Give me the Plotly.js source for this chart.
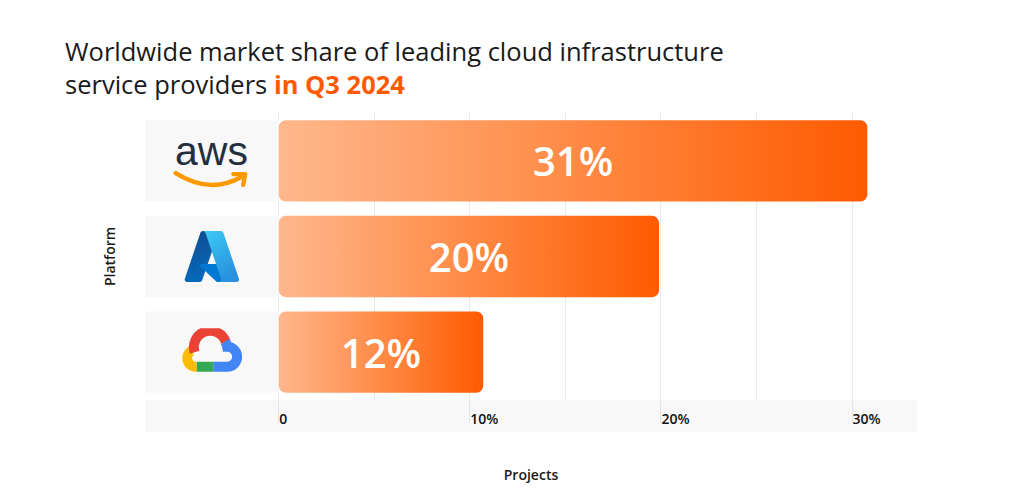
<!DOCTYPE html>
<html>
<head>
<meta charset="utf-8">
<script src="https://cdn.plot.ly/plotly-3.0.1.min.js"></script>
<style>
  html, body { margin: 0; padding: 0; background: #fff; }
  #myDiv { width: 1024px; height: 500px; }
</style>
</head>
<body>
<div id="myDiv"></div>
<script>
// data
let plataformas = ["AWS", "Azure", "Google Cloud"];
let largoBarra = [30.8, 19.9, 10.7];
let etiquetas = ["31%", "20%", "12%"];
let ticksX = [0, 10, 20, 30];
let ticksXTexto = ["0", "10%", "20%", "30%"];
let ticksMenores = [5, 15, 25];

let inicioLogo = -7;

// logos as small svg images
let svgSonrisa = `<svg xmlns="http://www.w3.org/2000/svg" viewBox="0 0 80 22">
<path d="M3,4 Q38,26 70,8" fill="none" stroke="#ff9900" stroke-width="4.5" stroke-linecap="round"/>
<path d="M62,5 L74,5 L72,16" fill="none" stroke="#ff9900" stroke-width="4.5" stroke-linecap="round" stroke-linejoin="round"/>
</svg>`;

let svgAzure = `<svg xmlns="http://www.w3.org/2000/svg" viewBox="0 0 96 96">
<defs>
<linearGradient id="a1" x1="0" y1="0" x2="0.3" y2="1"><stop offset="0" stop-color="#114a8b"/><stop offset="1" stop-color="#0669bc"/></linearGradient>
<linearGradient id="a2" x1="0" y1="0" x2="0.4" y2="1"><stop offset="0" stop-color="#3ccbf4"/><stop offset="1" stop-color="#2892df"/></linearGradient>
</defs>
<path d="M33.338 6.544h26.038l-27.03 80.087a4.152 4.152 0 0 1-3.933 2.824H8.149a4.145 4.145 0 0 1-3.928-5.47L29.404 9.368a4.152 4.152 0 0 1 3.934-2.825z" fill="url(#a1)"/>
<path d="M71.175 60.261h-41.29a1.911 1.911 0 0 0-1.305 3.309l26.532 24.764a4.171 4.171 0 0 0 2.846 1.121h23.38z" fill="#0078d4"/>
<path d="M66.595 9.364a4.145 4.145 0 0 0-3.928-2.82H33.648a4.146 4.146 0 0 1 3.928 2.82l25.184 74.62a4.146 4.146 0 0 1-3.928 5.472h29.02a4.146 4.146 0 0 0 3.927-5.472z" fill="url(#a2)"/>
</svg>`;

let svgGoogle = `<svg xmlns="http://www.w3.org/2000/svg" viewBox="4 10 92 62">
<g fill="none" stroke-width="15" stroke-linecap="butt">
<path d="M52,63 L27,63" stroke="#34a853"/>
<path d="M27,63 A13,13 0 0 1 19,39" stroke="#fbbc05"/>
<path d="M24,41 A21,21 0 0 1 71,26" stroke="#ea4335"/>
<path d="M70,25 A21,21 0 0 1 73,33 A15,15 0 0 1 73,63 L52,63" stroke="#4285f4"/>
</g>
</svg>`;

function aUrl(svg) {
    return "data:image/svg+xml;charset=utf-8," + encodeURIComponent(svg);
}

let centroLogo = inicioLogo / 2;

var data = [
    {
        // gray boxes behind the logos
        type: 'bar',
        orientation: 'h',
        y: plataformas,
        x: plataformas.map(() => -inicioLogo),
        base: inicioLogo,
        width: 0.85,
        marker: { color: '#f8f8f8', cornerradius: 0 },
        hoverinfo: 'skip',
        showlegend: false
    },
    {
        type: 'bar',
        orientation: 'h',
        y: plataformas,
        x: largoBarra,
        base: 0,
        width: 0.85,
        text: etiquetas,
        textposition: 'inside',
        insidetextanchor: 'middle',
        textangle: 0,
        textfont: { family: 'Open Sans', size: 40, color: '#ffffff', weight: 600 },
        marker: { color: '#ff8a45', cornerradius: 7 },
        showlegend: false
    }
];

var layout = {
    width: 1024,
    height: 500,
    margin: { l: 145, r: 107, t: 113, b: 100 },
    barmode: 'overlay',
    font: { family: 'Open Sans', color: '#1a1a1a' },
    title: {
        text: 'Worldwide market share of leading cloud infrastructure<br>service providers <span style="color:#ff5a00"><b>in Q3 2024</b></span>',
        x: 65 / 1024,
        xanchor: 'left',
        xref: 'container',
        y: 1 - 61 / 500,
        yanchor: 'top',
        yref: 'container',
        font: { family: 'Open Sans', size: 25.5, color: '#1a1a1a' }
    },
    xaxis: {
        range: [inicioLogo, 33.4],
        tickvals: ticksX,
        ticktext: ticksXTexto,
        showgrid: true,
        gridcolor: '#e9e9e9',
        zeroline: false,
        ticks: 'outside',
        ticklen: 22,
        tickcolor: '#e4e4e4',
        ticklabelposition: 'outside right',
        ticklabelstandoff: 6,
        tickfont: { family: 'Open Sans', size: 14, color: '#111111', weight: 600 },
        minor: { tickvals: ticksMenores, showgrid: true, gridcolor: '#e9e9e9', ticks: '' },
        title: {
            text: 'Projects',
            font: { family: 'Open Sans', size: 14, color: '#1a1a1a', weight: 600 },
            standoff: 43
        },
        fixedrange: true
    },
    yaxis: {
        categoryorder: 'array',
        categoryarray: plataformas,
        autorange: 'reversed',
        range: [2.5, -0.5],
        showticklabels: false,
        showgrid: false,
        zeroline: false,
        title: {
            text: 'Platform',
            font: { family: 'Open Sans', size: 14, color: '#1a1a1a', weight: 600 },
            standoff: 25
        },
        fixedrange: true
    },
    shapes: [
        {
            // band behind the tick labels
            type: 'rect',
            xref: 'paper', yref: 'paper',
            x0: 0, x1: 1, y0: -32 / 287, y1: 0,
            fillcolor: '#f8f8f8',
            line: { width: 0 },
            layer: 'below'
        }
    ],
    annotations: [
        {
            text: 'aws',
            x: centroLogo, y: plataformas[0],
            xref: 'x', yref: 'y',
            yshift: 10,
            showarrow: false,
            font: { family: 'Liberation Sans', size: 41, color: '#232f3e' }
        }
    ],
    images: [
        {
            source: aUrl(svgSonrisa),
            x: centroLogo, y: plataformas[0], xref: 'x', yref: 'y',
            sizex: 4.1, sizey: 0.3, xanchor: 'center', yanchor: 'middle',
            sizing: 'contain', layer: 'above'
        },
        {
            source: aUrl(svgAzure),
            x: centroLogo, y: plataformas[1], xref: 'x', yref: 'y',
            sizex: 3.4, sizey: 0.62, xanchor: 'center', yanchor: 'middle',
            sizing: 'contain', layer: 'above'
        },
        {
            source: aUrl(svgGoogle),
            x: centroLogo, y: plataformas[2], xref: 'x', yref: 'y',
            sizex: 3.2, sizey: 0.5, xanchor: 'center', yanchor: 'middle',
            sizing: 'contain', layer: 'above'
        }
    ],
    plot_bgcolor: '#ffffff',
    paper_bgcolor: '#ffffff'
};

// aws smile sits under the text
layout.images[0].y = 0.2;

function ponerDegradado() {
    let gd = document.getElementById('myDiv');
    let svg = gd.querySelector('svg.main-svg');
    let defs = svg.querySelector('defs');
    if (!defs.querySelector('#degradadoBarra')) {
        let ns = 'http://www.w3.org/2000/svg';
        let grad = document.createElementNS(ns, 'linearGradient');
        grad.setAttribute('id', 'degradadoBarra');
        grad.setAttribute('x1', '0'); grad.setAttribute('y1', '0');
        grad.setAttribute('x2', '1'); grad.setAttribute('y2', '0');
        [['0', '#ffb78d'], ['0.5', '#ff8a45'], ['1', '#ff5a00']].forEach(([o, c]) => {
            let s = document.createElementNS(ns, 'stop');
            s.setAttribute('offset', o);
            s.setAttribute('stop-color', c);
            grad.appendChild(s);
        });
        defs.appendChild(grad);
    }
    let trazos = gd.querySelectorAll('.barlayer .trace');
    if (trazos.length > 1) {
        trazos[1].querySelectorAll('path').forEach(p => {
            p.style.fill = 'url(#degradadoBarra)';
        });
    }
}

Plotly.newPlot('myDiv', data, layout, { displayModeBar: false, staticPlot: true }).then(ponerDegradado);
</script>
</body>
</html>
